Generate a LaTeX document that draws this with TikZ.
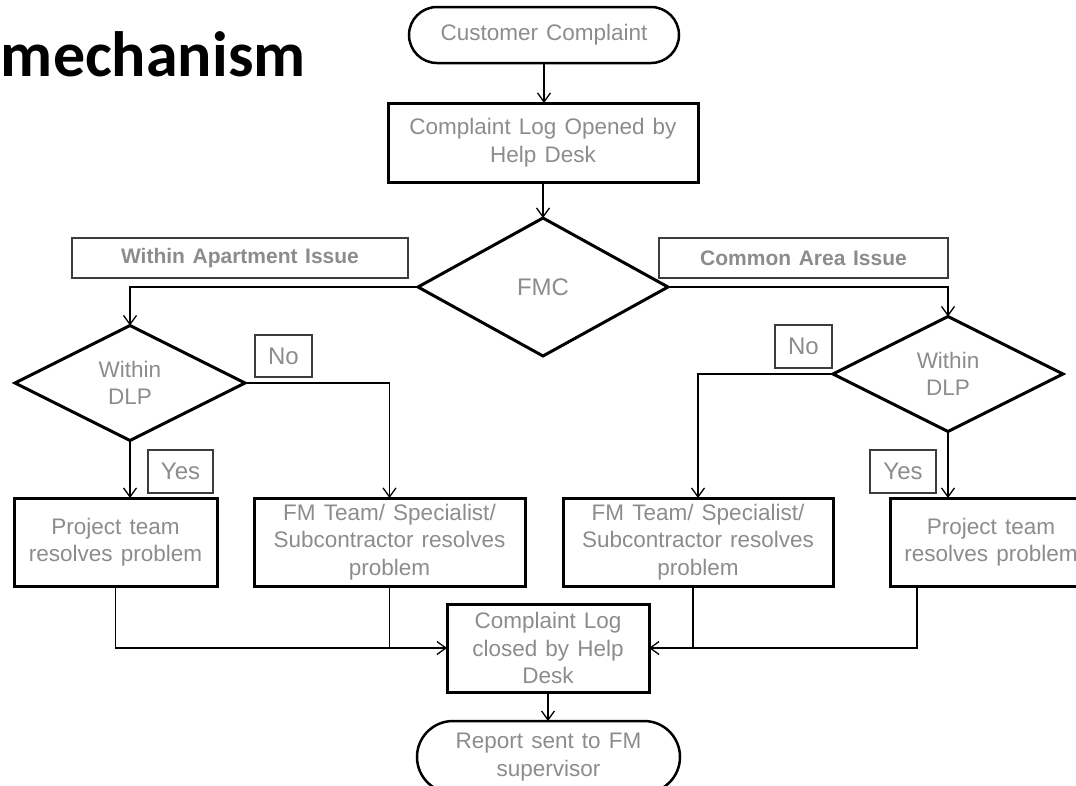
\documentclass[tikz,border=0pt]{standalone}
\usepackage{fontspec}
\setmainfont{Liberation Sans}[WordSpace=1.3]
\newfontfamily\titlefont{Carlito}
\usetikzlibrary{shapes.geometric,shapes.misc,arrows.meta,calc}
\definecolor{txtgray}{RGB}{140,140,140}
\definecolor{lblline}{RGB}{60,60,60}
\begin{document}
\begin{tikzpicture}[x=1pt,y=-1pt,
  every node/.style={inner sep=0pt, outer sep=0pt, align=center, text=txtgray,
    font=\fontsize{22.5}{27.5}\selectfont},
  mainbox/.style={draw=black, line width=3pt, rectangle},
  stadium/.style={draw=black, line width=2.5pt, rounded rectangle},
  decision/.style={draw=black, line width=3pt, diamond},
  lblbox/.style={draw=lblline, line width=1.3pt, rectangle},
  conn/.style={draw=black, line width=1.3pt},
  arr/.style={conn, -{Straight Barb[length=9pt,width=13pt,line width=1.3pt]}}
]
\useasboundingbox (0,0) rectangle (1076,785);
\clip (0,0) rectangle (1076,785);

% title
\node[anchor=base west, text=black, font=\titlefont\bfseries\fontsize{64}{70}\selectfont] (title) at (1,76) {mechanism};

% top flow
\node[stadium, minimum width=270pt, minimum height=56pt] (cc) at (544,35) {Customer Complaint};
\node[mainbox, minimum width=310pt, minimum height=79pt] (open) at (543,142.5) {Complaint Log Opened by\\Help Desk};
\node[decision, minimum width=250pt, minimum height=138pt, font=\fontsize{24}{28}\selectfont] (fmc) at (543,287) {FMC};

% branch labels
\node[lblbox, minimum width=336pt, minimum height=40pt, font=\bfseries\fontsize{21}{26}\selectfont] (wai) at (240,258) {Within Apartment Issue};
\node[lblbox, minimum width=289pt, minimum height=40pt, font=\bfseries\fontsize{21}{26}\selectfont] (cai) at (803.5,258) {Common Area Issue};

% DLP decisions
\node[decision, minimum width=230pt, minimum height=115pt] (dl) at (130,383) {Within\\DLP};
\node[decision, minimum width=230pt, minimum height=115pt] (dr) at (948,374) {Within\\DLP};

% yes/no labels
\node[lblbox, minimum width=57pt, minimum height=42pt, font=\fontsize{24}{28}\selectfont] (nol) at (283.5,356) {No};
\node[lblbox, minimum width=57pt, minimum height=43pt, font=\fontsize{24}{28}\selectfont] (nor) at (803.5,346.5) {No};
\node[lblbox, minimum width=65pt, minimum height=43pt, font=\fontsize{24}{28}\selectfont] (yesl) at (180.5,471.5) {Yes};
\node[lblbox, minimum width=66pt, minimum height=43pt, font=\fontsize{24}{28}\selectfont] (yesr) at (903,471.5) {Yes};

% action boxes
\node[mainbox, minimum width=203pt, minimum height=88pt] (ptl) at (115.5,542) {Project team\\resolves problem};
\node[mainbox, minimum width=271pt, minimum height=88pt] (fml) at (389.5,542) {FM Team/ Specialist/\\Subcontractor resolves\\problem};
\node[mainbox, minimum width=270pt, minimum height=88pt] (fmr) at (698,542) {FM Team/ Specialist/\\Subcontractor resolves\\problem};
\node[mainbox, minimum width=202pt, minimum height=88pt] (ptr) at (991,542) {Project team\\resolves problem};

% closing
\node[mainbox, minimum width=202pt, minimum height=88pt] (closed) at (548,648) {Complaint Log\\closed by Help\\Desk};
\node[stadium, minimum width=263pt, minimum height=72pt] (rep) at (548.5,757) {Report sent to FM\\supervisor};

% connectors
\draw[arr] (cc.south) -- (cc.south |- open.north);
\draw[arr] (open.south) -- (fmc.north);
\draw[arr] (fmc.west) -| (dl.north);
\draw[arr] (fmc.east) -| (dr.north);
\draw[arr] (dl.east) -| (fml.north);
\draw[arr] (dr.west) -| (fmr.north);
\draw[arr] (dl.south) -- (dl.south |- ptl.north);
\draw[arr] (dr.south) -- (dr.south |- ptr.north);

\coordinate (ptlout) at ($(ptl.south)$);
\coordinate (fmlout) at ($(fml.south)$);
\coordinate (fmrout) at ($(fmr.south)+(-5,0)$);
\coordinate (ptrout) at ($(ptr.south west)+(27,0)$);
\draw[arr] (ptlout) |- (closed.west);
\draw[conn] (fmlout) -- (fmlout |- closed.west);
\draw[arr] (ptrout) |- (closed.east);
\draw[conn] (fmrout) -- (fmrout |- closed.east);
\draw[arr] (closed.south) -- (closed.south |- rep.north);
\end{tikzpicture}
\end{document}
